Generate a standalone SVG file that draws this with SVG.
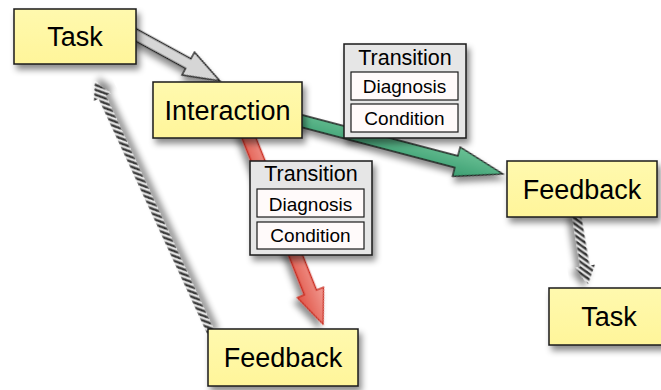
<svg xmlns="http://www.w3.org/2000/svg" width="661" height="390" viewBox="0 0 661 390">
<defs>
<filter id="sh" x="-20%" y="-20%" width="150%" height="160%">
<feDropShadow dx="3" dy="5" stdDeviation="3" flood-color="#000" flood-opacity="0.45"/>
</filter>
<linearGradient id="yel" x1="0" y1="0" x2="0" y2="1">
<stop offset="0" stop-color="#FFF9AE"/><stop offset="1" stop-color="#FFF59A"/>
</linearGradient>
<linearGradient id="grn" x1="0" y1="-1" x2="0" y2="1" gradientUnits="objectBoundingBox">
<stop offset="0" stop-color="#9BE6B9"/><stop offset="1" stop-color="#3C9E72"/>
</linearGradient>
<linearGradient id="red" x1="0" y1="0" x2="0" y2="1">
<stop offset="0" stop-color="#F29C93"/><stop offset="1" stop-color="#E05447"/>
</linearGradient>
<pattern id="hatch" patternUnits="userSpaceOnUse" width="4.6" height="4.6" patternTransform="rotate(45)">
<rect width="4.6" height="4.6" fill="#EEEEEE"/>
<rect width="2.5" height="4.6" fill="#2E2E2E"/>
</pattern>
<style>
.node{fill:url(#yel);stroke:#1a1a1a;stroke-width:1.5;filter:url(#sh)}
.tbox{fill:#E6E6E6;stroke:#1a1a1a;stroke-width:1.5;filter:url(#sh)}
.ibox{fill:#FFFAFA;stroke:#1a1a1a;stroke-width:1.2}
.big{font-family:"Liberation Sans",Arial,sans-serif;font-size:27px;fill:#000;text-anchor:middle}
.tt{font-family:"Liberation Sans",Arial,sans-serif;font-size:21.5px;fill:#000;text-anchor:middle}
.it{font-family:"Liberation Sans",Arial,sans-serif;font-size:19px;fill:#000;text-anchor:middle}
.arr{filter:url(#sh);stroke-linejoin:miter}
</style>
</defs>

<g id="connectors">
<polygon class="arr" transform="translate(126,29.5) rotate(28.7)" points="0,-5.5 71,-5.5 71,-13 107,0 71,13 71,5.5 0,5.5" fill="#D6D6D6" stroke="#222" stroke-width="1.4"/>
<polygon class="arr" transform="translate(290,118) rotate(14.73)" points="0,-6 172,-6 172,-15 220,0 172,15 172,6 0,6" fill="url(#grn)" stroke="#1a1a1a" stroke-width="1.3"/>
<polygon class="arr" transform="translate(245,128) rotate(68.3)" points="0,-6.5 177,-6.5 177,-14 211,0 177,14 177,6.5 0,6.5" fill="url(#red)" stroke="#C92A1E" stroke-width="1.3"/>
<polygon class="arr" transform="translate(212,335) rotate(-114.8)" points="0,-3.7 262,-3.7 262,-9 279,0 262,9 262,3.7 0,3.7" fill="url(#hatch)"/>
<polygon class="arr" transform="translate(576,212) rotate(80.5)" points="0,-4.5 55,-4.5 55,-10 73,0 55,10 55,4.5 0,4.5" fill="url(#hatch)"/>
</g>

<g id="task1">
<rect class="node" x="14" y="9" width="122" height="55"/>
<text class="big" x="75" y="45.5">Task</text>
</g>
<g id="interaction">
<rect class="node" x="153" y="82" width="149" height="56"/>
<text class="big" x="227.5" y="119.5">Interaction</text>
</g>
<g id="feedback1">
<rect class="node" x="507" y="161" width="150" height="56"/>
<text class="big" x="582" y="199">Feedback</text>
</g>
<g id="task2">
<rect class="node" x="549" y="288" width="122" height="57"/>
<text class="big" x="609" y="326">Task</text>
</g>
<g id="feedback2">
<rect class="node" x="208" y="329" width="150" height="57"/>
<text class="big" x="283" y="367">Feedback</text>
</g>

<g id="transition1">
<rect class="tbox" x="344" y="44" width="122" height="94"/>
<text class="tt" x="405" y="65">Transition</text>
<rect class="ibox" x="351" y="72" width="107" height="28"/>
<text class="it" x="404.5" y="93">Diagnosis</text>
<rect class="ibox" x="351" y="104" width="107" height="28"/>
<text class="it" x="404.5" y="125">Condition</text>
</g>
<g id="transition2">
<rect class="tbox" x="250" y="161" width="122" height="94"/>
<text class="tt" x="311" y="181">Transition</text>
<rect class="ibox" x="257" y="189" width="107" height="28"/>
<text class="it" x="310.5" y="211">Diagnosis</text>
<rect class="ibox" x="257" y="222" width="107" height="27"/>
<text class="it" x="310.5" y="242">Condition</text>
</g>
</svg>
